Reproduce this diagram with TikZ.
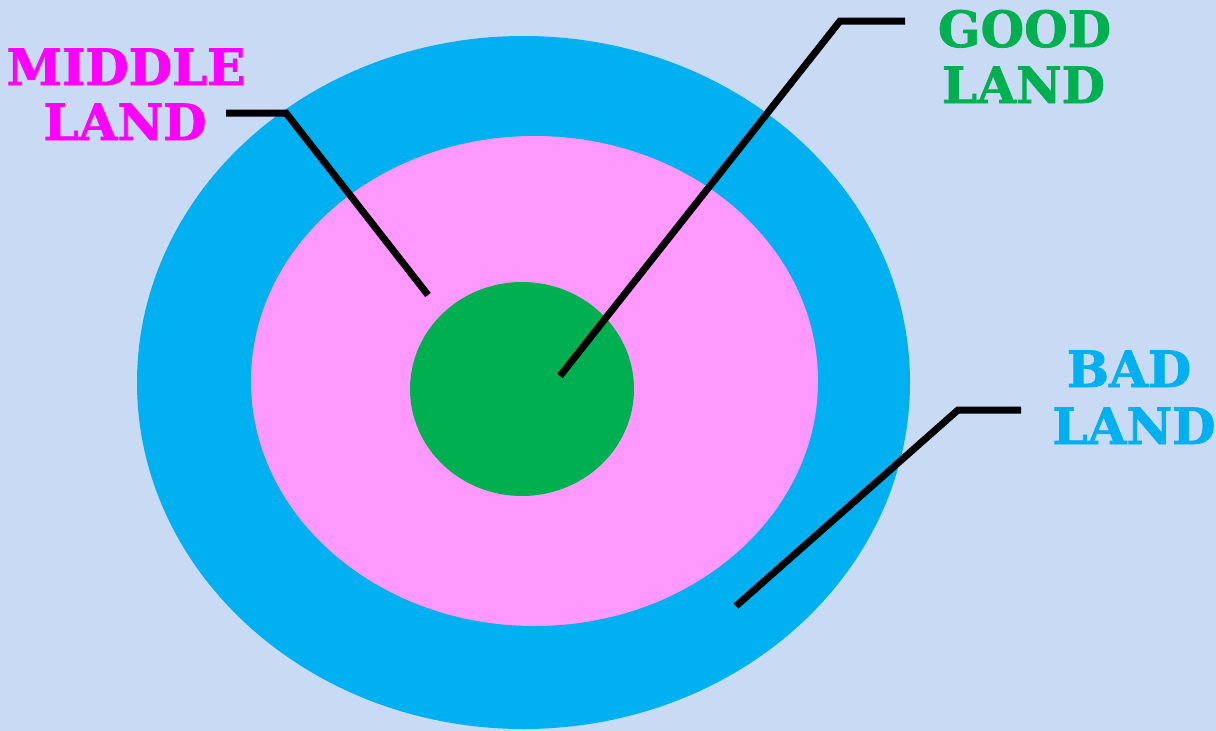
\documentclass[tikz,border=0pt]{standalone}
\usepackage{fontspec}
\setmainfont{DejaVu Serif}
\newfontfamily\heavyfont{DejaVu Serif Bold}[FakeBold=1.5]
\definecolor{bgblue}{RGB}{200,218,244}
\definecolor{badblue}{RGB}{0,176,240}
\definecolor{midpink}{RGB}{255,153,255}
\definecolor{goodgreen}{RGB}{0,176,80}
\definecolor{magentatext}{RGB}{255,0,255}
\usetikzlibrary{shapes.geometric}
\tikzset{
  land/.style={ellipse, draw=none, inner sep=0pt},
  lbl/.style={anchor=base, inner sep=0pt, font=\fontsize{50}{57}\heavyfont},
  leader/.style={line width=7pt, black, line join=miter}
}
\begin{document}
\begin{tikzpicture}[x=1pt,y=-1pt]
\fill[bgblue] (0,0) rectangle (1216,731);
\useasboundingbox (0,0) rectangle (1216,731);
% lands
\node[land, fill=badblue, minimum width=773pt, minimum height=693pt] (bad) at (523.5,382.5) {};
\node[land, fill=midpink, minimum width=567pt, minimum height=490pt] (middle) at (534.5,381) {};
\node[land, fill=goodgreen, minimum width=224pt, minimum height=214pt] (good) at (522,389) {};
% labels
\node[lbl, text=magentatext] (mid1) at (126,85) {MIDDLE};
\node[lbl, text=magentatext] (mid2) at (125,140) {LAND};
\node[lbl, text=goodgreen] (good1) at (1024.5,47) {GOOD};
\node[lbl, text=goodgreen] (good2) at (1023.5,103) {LAND};
\node[lbl, text=badblue] (bad1) at (1129,387) {BAD};
\node[lbl, text=badblue] (bad2) at (1134,444) {LAND};
% leader coordinates
\coordinate (mA) at (226,113);
\coordinate (mB) at (286,113);
\coordinate (mC) at (428,295);
\coordinate (gA) at (905,21);
\coordinate (gB) at (840,21);
\coordinate (gC) at (560,376);
\coordinate (bA) at (1021,410);
\coordinate (bB) at (958,410);
\coordinate (bC) at (736,606);
\draw[leader] (mA) -- (mB) -- (mC);
\draw[leader] (gA) -- (gB) -- (gC);
\draw[leader] (bA) -- (bB) -- (bC);
\end{tikzpicture}
\end{document}
